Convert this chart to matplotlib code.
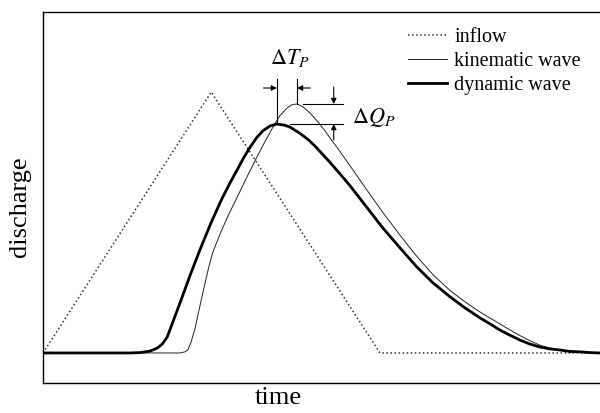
import matplotlib
matplotlib.use('Agg')
import matplotlib.pyplot as plt

plt.rcParams['font.family'] = ['Liberation Serif', 'DejaVu Serif']
plt.rcParams['mathtext.fontset'] = 'stix'

# inflow hydrograph (triangle)
inflow_t = [0, 30.2, 60.5, 100]
inflow_q = [8.1, 78.4, 8.1, 8.1]

# kinematic wave outflow
kin_t = [0, 24.6, 25.5, 26.0, 26.6, 27.3, 28.2, 29.1, 29.8, 30.5, 31.8, 33.2,
         34.8, 36.6, 38.4, 39.9, 41.3, 42.5, 43.8, 44.7, 45.6, 46.7, 47.9,
         49.4, 50.6, 51.9, 53.3, 55.7, 58.2, 61.0, 64.1, 66.9, 70.0, 73.1,
         76.1, 78.8, 81.5, 83.5, 85.6, 87.4, 89.2, 91.0, 92.8, 96.4, 100]
kin_q = [8.1, 8.1, 8.4, 8.9, 11.1, 14.8, 21.0, 27.0, 31.5, 35.3, 40.2, 45.0,
         49.9, 55.5, 60.9, 65.2, 69.0, 72.0, 74.1, 75.0, 75.2, 74.4, 72.8,
         70.3, 68.0, 65.3, 62.4, 57.3, 51.9, 46.0, 39.8, 34.5, 29.2, 24.9,
         21.5, 18.8, 16.4, 14.6, 12.8, 11.4, 10.2, 9.4, 8.9, 8.4, 8.1]

# dynamic wave outflow
dyn_t = [0, 13.8, 15.6, 17.4, 19.2, 20.5, 21.4, 22.3, 23.3, 24.6, 26.4, 28.2,
         30.2, 32.1, 33.6, 34.8, 36.1, 37.2, 38.4, 39.5, 40.8, 42.0, 43.3,
         44.3, 46.1, 47.6, 48.8, 50.1, 51.5, 53.3, 55.1, 58.0, 61.0, 64.1,
         67.1, 70.0, 73.1, 75.8, 78.5, 80.3, 82.0, 83.8, 85.6, 87.4, 89.2,
         91.0, 92.8, 94.6, 96.4, 98.2, 100]
dyn_q = [8.1, 8.1, 8.1, 8.2, 8.6, 9.4, 10.5, 12.4, 16.4, 21.6, 29.0, 36.0,
         43.3, 49.6, 54.0, 57.3, 60.9, 63.6, 66.2, 68.0, 69.3, 69.8, 69.5,
         69.0, 67.3, 65.6, 63.9, 61.8, 59.5, 56.4, 53.2, 47.6, 41.8, 36.4,
         31.3, 27.0, 23.2, 20.2, 17.5, 15.9, 14.3, 12.9, 11.6, 10.5, 9.7,
         9.2, 8.9, 8.5, 8.4, 8.2, 8.1]

# peak times / discharges used for the delta markers
tp_dyn, qp_dyn = 42.0, 69.8
tp_kin, qp_kin = 45.6, 75.2

fig = plt.figure(figsize=(6.0, 4.13), dpi=100)
ax = fig.add_axes([0.0717, 0.0726, 0.9283, 0.8985])

ax.plot(inflow_t, inflow_q, color='#333333', lw=1.1, ls=':', label='inflow')
ax.plot(kin_t, kin_q, color='#222222', lw=0.7, label='kinematic wave')
ax.plot(dyn_t, dyn_q, color='black', lw=2.0, label='dynamic wave')

ax.set_xlim(0, 100)
ax.set_ylim(0, 100)
ax.set_xticks([])
ax.set_yticks([])
ax.spines['right'].set_visible(False)
for s in ['left', 'top', 'bottom']:
    ax.spines[s].set_linewidth(1.0)

ax.set_xlabel('time', fontsize=19)
ax.set_ylabel('discharge', fontsize=19)
ax.xaxis.set_label_coords(0.422, -0.012)
ax.yaxis.set_label_coords(-0.022, 0.474)

ax.legend(loc='upper left', bbox_to_anchor=(0.655, 0.958), frameon=False,
          fontsize=14.5, handlelength=1.95, handletextpad=0.35,
          labelspacing=0.25, borderpad=0, borderaxespad=0)

# delta T_P marker
top_y = 82.0
arr_y = 79.5
ax.plot([tp_dyn, tp_dyn], [qp_dyn, top_y], color='black', lw=0.8)
ax.plot([tp_kin, tp_kin], [qp_kin, top_y], color='black', lw=0.8)
arrow = dict(arrowstyle='-|>', color='black', lw=0.8, mutation_scale=8,
             shrinkA=0, shrinkB=0)
ax.annotate('', xy=(tp_dyn, arr_y), xytext=(tp_dyn - 2.4, arr_y), arrowprops=arrow)
ax.annotate('', xy=(tp_kin, arr_y), xytext=(tp_kin + 2.4, arr_y), arrowprops=arrow)
ax.text(44.3, 87.5, r'$\Delta T_P$', fontsize=16, ha='center', va='center')

# delta Q_P marker
right_x = 53.9
arr_x = 52.2
ax.plot([46.7, right_x], [qp_kin, qp_kin], color='black', lw=0.8)
ax.plot([44.3, right_x], [qp_dyn, qp_dyn], color='black', lw=0.8)
ax.annotate('', xy=(arr_x, qp_kin), xytext=(arr_x, qp_kin + 4.6), arrowprops=arrow)
ax.annotate('', xy=(arr_x, qp_dyn), xytext=(arr_x, qp_dyn - 4.3), arrowprops=arrow)
ax.text(55.4, 71.5, r'$\Delta Q_P$', fontsize=16, ha='left', va='center')

fig.savefig('out.png', dpi=100)
